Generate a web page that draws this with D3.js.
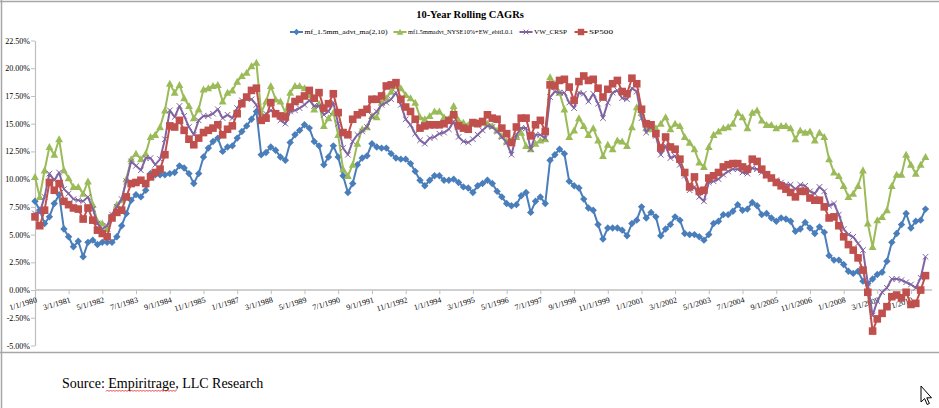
<!DOCTYPE html>
<html><head><meta charset="utf-8">
<script src="https://cdn.jsdelivr.net/npm/d3@7"></script>
<style>
html,body{margin:0;padding:0;background:#fff;}
svg{display:block;}
text{font-family:"Liberation Serif","Times New Roman",serif;}
</style></head>
<body>
<svg id="chart" width="939" height="408"></svg>
<script>
// ---- DATA (bi-monthly 10-year rolling CAGR, %) from 1/1/1980 ----
const startDate = "1/1/1980";
const seriesNames = ["mf_1.5mm_advt_ma(2,10)", "mf1.5mmadvt_NYSE10%+EW_ebitL0.1", "VW_CRSP", "SP500"];
const blueVals = [
 8.0,7.2,6.0,6.6,7.8,8.6, 5.5,4.8,3.9,4.4,3.0,4.3, 4.5,4.1,4.3,4.3,4.3,4.8, 5.8,6.9,8.1,8.6,8.4,9.0,
 10.5,10.4,10.4,10.4,10.5,10.6, 11.2,11.0,10.5,9.6,10.5,12.0, 12.8,13.4,13.7,12.5,12.9,13.0, 13.7,14.3,14.8,15.4,16.1,12.2,
 12.4,12.9,12.6,12.0,11.7,13.3, 14.0,14.4,14.9,14.6,13.4,13.0, 11.3,12.0,13.0,12.0,10.3,8.8, 9.6,11.3,11.9,12.1,13.2,12.9,
 12.8,12.8,12.3,11.9,11.8,11.8, 11.4,10.7,9.9,9.4,9.9,10.3, 10.3,9.9,9.9,10.0,9.7,9.3, 9.2,8.8,9.4,9.6,9.9,9.6,
 8.9,8.4,7.8,7.6,7.7,8.5, 8.8,7.0,8.0,8.4,7.8,11.7, 12.2,12.7,12.3,9.8,9.4,9.2, 8.2,7.4,7.2,5.9,4.6,5.6,
 5.6,5.6,5.4,4.9,6.0,6.3, 7.5,6.5,7.0,6.6,4.9,5.5, 5.9,6.6,6.3,5.1,5.0,5.0, 4.8,4.5,5.0,6.0,6.2,6.8,
 6.8,7.1,7.7,7.2,7.3,7.9, 7.6,6.8,6.9,6.5,6.2,6.5, 6.4,6.2,5.3,5.5,6.1,5.6, 5.1,5.7,5.2,3.1,2.7,2.7,
 2.3,1.7,1.5,1.7,0.8,0.6, 1.0,1.4,1.6,2.6,4.3,5.1, 5.9,6.9,5.6,6.2,6.3,7.3
];
const greenVals = [
 10.2,8.4,10.8,12.9,12.2,13.6, 10.8,10.1,9.3,9.3,8.7,9.8, 7.7,6.2,6.0,5.5,6.7,7.7, 8.1,10.0,11.8,12.3,11.8,12.3,
 13.8,14.0,14.7,16.2,18.6,17.8, 18.5,17.3,16.6,15.5,16.3,18.1, 18.2,18.4,18.5,17.0,17.8,18.0, 18.8,19.3,19.6,20.2,20.5,16.0,
 17.0,18.4,17.2,17.0,16.0,17.8, 18.4,18.4,18.2,17.6,16.3,16.8, 14.8,15.5,16.0,14.0,10.9,10.3, 11.3,13.2,14.5,14.7,15.7,15.6,
 16.9,17.3,17.9,18.4,18.2,17.6, 17.3,16.9,15.6,15.4,15.7,16.1, 16.1,15.6,15.4,16.6,15.3,15.1, 14.9,15.0,15.1,15.1,15.0,14.8,
 14.4,13.9,13.4,13.5,13.8,14.2, 13.0,12.7,13.2,13.5,13.6,19.2, 18.6,17.8,16.3,13.8,14.4,15.5, 14.8,14.0,14.6,13.5,12.1,13.1,
 12.7,13.5,13.4,13.0,14.7,16.5, 16.0,14.6,14.5,14.6,15.0,15.6, 14.5,15.0,14.8,13.8,13.3,12.7, 11.5,11.1,12.9,14.0,14.3,14.6,
 14.7,15.0,16.0,15.6,14.6,16.0, 16.2,15.3,14.9,14.9,14.6,14.8, 14.8,14.6,13.6,14.4,14.2,14.3, 13.5,14.2,13.8,11.8,10.6,10.3,
 9.4,8.4,8.7,9.4,10.8,6.0, 3.9,6.3,6.6,7.2,9.4,10.4, 10.4,12.2,11.3,10.5,11.3,12.0
];
const purpleVals = [
 6.9,7.0,8.4,10.5,9.9,10.6, 9.1,8.7,8.2,8.1,8.0,8.4, 7.3,6.0,5.5,5.8,6.8,7.5, 8.2,9.8,11.6,11.2,10.8,11.9,
 11.9,11.3,11.8,13.6,16.2,15.6, 16.6,15.7,14.7,14.0,15.3,15.7, 15.7,15.9,16.3,15.5,15.8,15.5, 16.4,17.1,17.3,17.2,16.7,15.3,
 15.9,16.2,15.9,15.3,15.0,16.1, 16.2,16.4,16.7,17.1,16.6,16.6, 15.8,16.1,16.9,15.0,12.8,12.2, 13.4,14.0,14.3,14.7,15.7,16.1,
 16.7,16.9,17.2,17.8,16.7,15.4, 14.9,14.1,13.5,13.2,13.7,13.8, 14.1,14.2,14.5,15.2,13.8,13.4, 13.3,13.6,14.0,14.4,14.8,14.7,
 14.3,13.8,13.3,12.2,14.0,14.6, 14.6,12.7,14.0,14.0,13.7,17.4, 17.9,17.8,17.8,16.9,16.4,17.8, 17.7,17.0,17.7,16.8,15.5,16.9,
 17.8,18.0,17.3,17.2,18.2,17.9, 15.5,14.2,14.8,13.9,12.2,13.0, 11.9,12.1,11.3,10.3,9.0,9.3, 8.4,8.0,9.7,9.8,10.0,10.4,
 10.7,10.9,10.9,10.6,10.5,11.0, 10.9,10.6,10.3,10.0,9.9,9.7, 9.5,9.5,9.1,9.5,9.4,8.9, 8.7,9.3,8.9,7.6,7.8,6.8,
 5.5,5.0,4.8,4.2,3.6,0.6, -2.3,-1.0,-0.2,0.2,1.0,1.0, 0.9,0.7,0.5,0.2,1.1,3.0
];
const redVals = [
 6.6,5.8,7.2,9.7,9.0,9.6, 8.0,7.7,7.4,7.3,6.4,7.4, 6.3,5.4,5.1,4.8,6.5,7.0, 7.2,8.4,9.6,9.7,9.9,9.6,
 10.2,10.6,10.9,12.2,14.8,14.7, 15.3,14.4,13.6,13.1,13.7,14.2, 14.4,14.6,14.9,14.0,14.5,14.8, 15.9,16.8,17.4,18.0,18.2,15.3,
 15.5,16.9,15.9,15.7,15.6,16.5, 17.0,17.2,17.5,18.0,17.3,17.8, 16.4,16.8,17.7,16.0,14.2,14.0, 15.4,15.8,16.0,16.3,17.2,17.2,
 17.5,18.4,18.5,18.7,17.2,16.5, 16.1,15.4,14.6,14.8,14.9,14.9, 14.9,15.0,15.3,15.8,14.8,14.6, 14.5,15.1,15.0,15.2,15.8,15.5,
 15.4,14.6,14.1,13.3,14.7,15.5, 15.5,13.9,14.9,15.3,14.3,18.5, 18.4,18.9,19.0,18.3,17.1,18.8, 19.3,18.9,19.0,18.2,17.4,18.1,
 18.6,18.9,17.9,17.7,19.1,18.6, 16.3,15.0,14.9,14.1,12.8,13.8, 12.9,12.7,11.8,10.6,9.3,10.2, 8.9,9.0,10.1,10.3,10.6,11.1,
 11.3,11.4,11.4,11.1,10.9,11.8, 11.6,10.9,10.4,10.1,9.7,9.4, 9.1,8.8,8.4,8.9,8.9,8.3, 8.1,8.1,7.5,6.5,6.6,5.8,
 4.8,4.1,3.6,2.9,1.8,-0.2, -3.7,-2.6,-2.1,-1.5,-0.6,-0.45, -0.7,-0.2,-1.3,-1.2,0.0,1.3
];
const yTicks = [-5, -2.5, 0, 2.5, 5, 7.5, 10, 12.5, 15, 17.5, 20, 22.5];
const xTickLabels = ["1/1/1980","3/1/1981","5/1/1982","7/1/1983","9/1/1984","11/1/1985","1/1/1987","3/1/1988",
 "5/1/1989","7/1/1990","9/1/1991","11/1/1992","1/1/1994","3/1/1995","5/1/1996","7/1/1997","9/1/1998",
 "11/1/1999","1/1/2001","3/1/2002","5/1/2003","7/1/2004","9/1/2005","11/1/2006","1/1/2008","3/1/2009","5/1/2010"];
const titleText = "10-Year Rolling CAGRs";
const sourceText = "Source: Empiritrage, LLC Research";

// ---- build ----
const parse = d3.timeParse("%m/%d/%Y");
const t0 = parse(startDate);
const dates = blueVals.map((_, i) => d3.timeMonth.offset(t0, 2 * i));
const colors = ["#4A7EBB", "#9BBB59", "#8064A2", "#C0504D"];
const symbols = ["diamond", "triangle", "x", "square"];
const allVals = [blueVals, greenVals, purpleVals, redVals];

const svg = d3.select("#chart");
svg.append("rect").attr("width", 939).attr("height", 408).attr("fill", "#fff");

// frame lines
const frame = svg.append("g").attr("stroke", "#a6a6a6").attr("stroke-width", 1.5).attr("fill", "none");
frame.append("line").attr("x1", 0).attr("x2", 939).attr("y1", 1.5).attr("y2", 1.5);
frame.append("line").attr("x1", 1.5).attr("x2", 1.5).attr("y1", 0).attr("y2", 408);
frame.append("line").attr("x1", 0).attr("x2", 939).attr("y1", 352.5).attr("y2", 352.5);

const x = d3.scaleTime().domain([t0, dates[dates.length - 1]]).range([35, 925.5]);
const y = d3.scaleLinear().domain([-5, 22.5]).range([345.5, 40.5]);

// title
svg.append("text").attr("x", 470).attr("y", 18).attr("text-anchor", "middle")
  .attr("font-size", 10.5).attr("font-weight", "bold").attr("fill", "#000").text(titleText);

// marker helper
function drawMarker(g, cx, cy, i, s) {
  s = s || 1;
  const c = colors[i];
  if (symbols[i] === "diamond") {
    const r = 3.7 * s;
    g.append("path").attr("d", `M${cx},${cy - r}L${cx + r},${cy}L${cx},${cy + r}L${cx - r},${cy}Z`).attr("fill", c);
  } else if (symbols[i] === "triangle") {
    const r = 3.9 * s;
    g.append("path").attr("d", `M${cx},${cy - r}L${cx + r},${cy + r * 0.8}L${cx - r},${cy + r * 0.8}Z`).attr("fill", c);
  } else if (symbols[i] === "x") {
    const r = 2.8 * s;
    g.append("path").attr("d", `M${cx - r},${cy - r}L${cx + r},${cy + r}M${cx - r},${cy + r}L${cx + r},${cy - r}`)
      .attr("stroke", c).attr("stroke-width", 1).attr("fill", "none");
  } else {
    const r = 3.8 * s;
    g.append("rect").attr("x", cx - r).attr("y", cy - r).attr("width", 2 * r).attr("height", 2 * r).attr("fill", c);
  }
}

// legend (text widths fitted to reference layout)
const legendX = [290, 393.5, 519.5, 574.5];
const legendW = [83, 105, 33, 24];
const lg = svg.append("g");
seriesNames.forEach((n, i) => {
  const g = lg.append("g").attr("transform", `translate(${legendX[i]},32)`);
  g.append("line").attr("x1", 0).attr("x2", 13).attr("stroke", colors[i]).attr("stroke-width", 2);
  drawMarker(g, 6.5, 0, i, 0.85);
  g.append("text").attr("x", 14.5).attr("y", 0).attr("dy", "0.33em").attr("font-size", 7).attr("fill", "#000")
    .attr("textLength", legendW[i]).attr("lengthAdjust", "spacingAndGlyphs").text(n);
});

// y axis
const yAxis = svg.append("g").attr("transform", "translate(35,0)")
  .call(d3.axisLeft(y).tickValues(yTicks).tickFormat(d => d.toFixed(2) + "%").tickSize(4).tickSizeOuter(0));
yAxis.select(".domain").attr("stroke", "#bfbfbf").attr("stroke-width", 1.2);
yAxis.selectAll(".tick line").attr("stroke", "#bfbfbf");
yAxis.selectAll(".tick text").attr("font-family", "Liberation Serif").attr("font-size", 8).attr("fill", "#000").attr("x", -5);

// x axis at 0
const tickDates = xTickLabels.map(s => parse(s));
const xAxis = svg.append("g").attr("transform", `translate(0,${y(0)})`)
  .call(d3.axisBottom(x).tickValues(tickDates).tickFormat((d, i) => xTickLabels[i]).tickSize(4).tickSizeOuter(0));
xAxis.select(".domain").attr("stroke", "#d0d0d0").attr("stroke-width", 2).attr("d", "M35,0H932");
xAxis.selectAll(".tick line").attr("stroke", "#bfbfbf");
xAxis.selectAll(".tick text").attr("font-family", "Liberation Serif").attr("font-size", 8).attr("fill", "#000")
  .attr("text-anchor", "end").attr("x", 0).attr("y", 0).attr("dy", 0)
  .attr("transform", "translate(2,12) rotate(-17)");

// series
const line = d3.line().x(d => x(d.date)).y(d => y(d.v));
allVals.forEach((vals, i) => {
  const data = vals.map((v, k) => ({ date: dates[k], v }));
  const g = svg.append("g");
  g.append("path").datum(data).attr("d", line).attr("fill", "none")
    .attr("stroke", colors[i]).attr("stroke-width", 2).attr("stroke-linejoin", "round");
  data.forEach(d => drawMarker(g, x(d.date), y(d.v), i, 1));
});

// source note
svg.append("text").attr("x", 62).attr("y", 388).attr("font-size", 14).attr("fill", "#000").text(sourceText);
// spell-check squiggle under "Empiritrage,"
(function () {
  let d = "M106,391.5";
  for (let xx = 106, k = 0; xx < 176; xx += 1.5, k++) d += `L${xx + 1.5},${k % 2 ? 391.5 : 390}`;
  svg.append("path").attr("d", d).attr("stroke", "#e02020").attr("stroke-width", 0.8).attr("fill", "none");
})();

// mouse cursor
svg.append("path").attr("d", "M921,386L921,402L924.6,398.6L927.2,404.5L929.4,403.5L926.8,397.8L931.5,397.8Z")
  .attr("fill", "#fff").attr("stroke", "#000").attr("stroke-width", 1).attr("stroke-linejoin", "miter");
</script>
</body></html>
